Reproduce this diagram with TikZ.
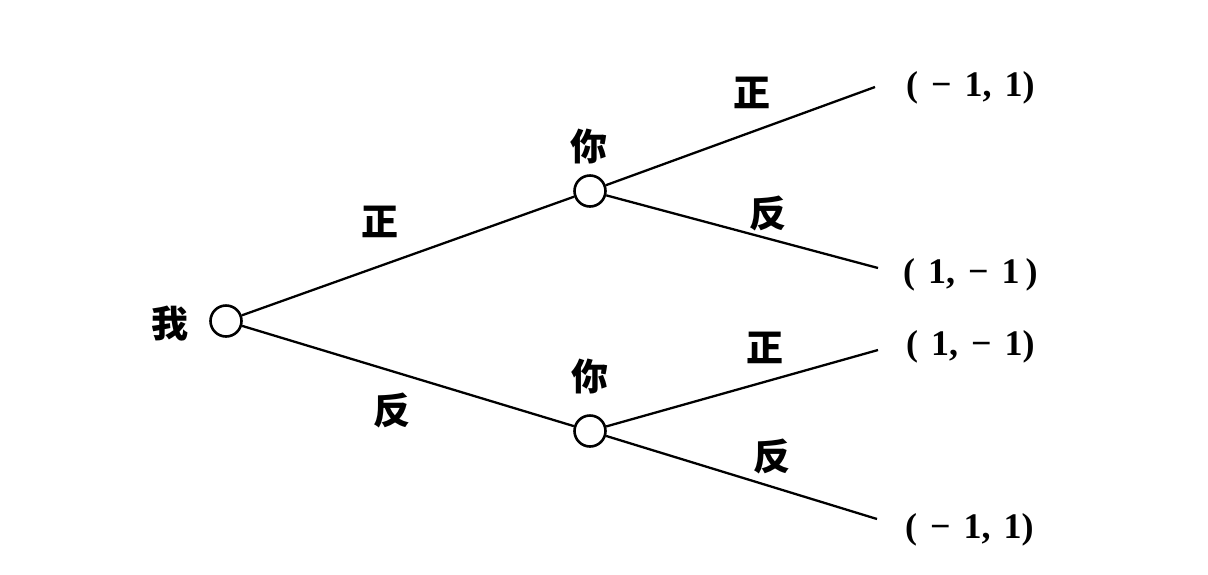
\documentclass[tikz,border=0pt]{standalone}
\usepackage{fontspec}
\setmainfont{Liberation Serif}
\newfontfamily\cjk{Noto Sans CJK SC}
\newcommand\hs{\hspace{0.36em}}
\begin{document}
\begin{tikzpicture}[x=1pt,y=-1pt,
  dec/.style={circle,draw,line width=2.6pt,minimum size=31pt,inner sep=0pt},
  lab/.style={font=\cjk\bfseries\fontsize{37}{37}\selectfont,inner sep=0pt},
  pay/.style={font=\bfseries\fontsize{36}{36}\selectfont,inner sep=0pt,anchor=west},
  edge/.style={line width=2.3pt}]
\useasboundingbox (0,0) rectangle (1208,574);
\fill[white] (0,0) rectangle (1208,574);
\node[dec] (r) at (226,321) {};
\node[dec] (u) at (590,191) {};
\node[dec] (d) at (590,431) {};
\coordinate (e1) at (875,87);
\coordinate (e2) at (878,268);
\coordinate (e3) at (878,350);
\coordinate (e4) at (877,519);
\draw[edge] (r) -- (u);
\draw[edge] (r) -- (d);
\draw[edge] (u) -- (e1);
\draw[edge] (u) -- (e2);
\draw[edge] (d) -- (e3);
\draw[edge] (d) -- (e4);
\node[lab] (lr) at (170,324) {我};
\node[lab] (lu) at (589,147) {你};
\node[lab] (ld) at (590,377) {你};
\node[lab] (a1) at (380,222) {正};
\node[lab] (a2) at (392,410) {反};
\node[lab] (b1) at (752,93) {正};
\node[lab] (b2) at (768,213) {反};
\node[lab] (c1) at (765,348) {正};
\node[lab] (c2) at (772,456) {反};
\node[pay] (p1) at (906,88) {(\hs−\hs1,\hs1)};
\node[pay] (p2) at (903,275) {(\hs1,\hs−\hs1\,)};
\node[pay] (p3) at (906,347) {(\hs1,\hs−\hs1)};
\node[pay] (p4) at (905,530) {(\hs−\hs1,\hs1)};
\end{tikzpicture}
\end{document}
